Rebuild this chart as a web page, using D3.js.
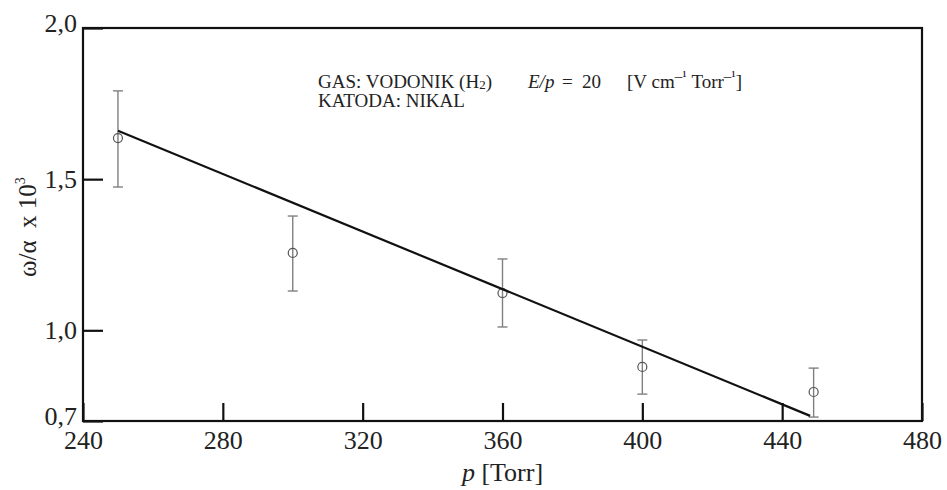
<!DOCTYPE html>
<html>
<head>
<meta charset="utf-8">
<script src="https://cdn.jsdelivr.net/npm/d3@7"></script>
<style>
  html, body { margin: 0; padding: 0; background: #fff; }
  svg { display: block; }
</style>
</head>
<body>
<svg id="chart" width="947" height="490"></svg>
<script>
// ---- data ----
const xTicks = [240, 280, 320, 360, 400, 440, 480];
const yTicks = [0.7, 1.0, 1.5, 2.0];
const pressure = [250, 300, 360, 400, 449];
const ratio    = [1.636, 1.256, 1.123, 0.879, 0.796];
const errLow   = [1.474, 1.130, 1.011, 0.789, 0.713];
const errHigh  = [1.792, 1.378, 1.236, 0.968, 0.875];
const fitP     = [250, 448];
const fitRatio = [1.66, 0.717];

// ---- layout ----
const FONT = "Times New Roman, Liberation Serif, DejaVu Serif, serif";
const W = 947, H = 490;
const margin = { top: 28, right: 25, bottom: 69, left: 83 };
const iw = W - margin.left - margin.right;
const ih = H - margin.top - margin.bottom;

const svg = d3.select("#chart").style("font-family", FONT);
const g = svg.append("g").attr("transform", `translate(${margin.left},${margin.top})`);

const x = d3.scaleLinear().domain([240, 480]).range([0, iw]);
const y = d3.scaleLinear().domain([0.7, 2.0]).range([ih, 0]);

const fmt = v => d3.format(".1f")(v).replace(".", ",");

// x axis (inward ticks)
const gx = g.append("g").attr("transform", `translate(0,${ih})`)
  .call(d3.axisBottom(x).tickValues(xTicks).tickSize(-18).tickPadding(10).tickFormat(d3.format("d")));
gx.attr("font-family", FONT).attr("font-size", 26);
gx.select(".domain").remove();
gx.selectAll(".tick line").attr("stroke", "#111").attr("stroke-width", 2.2);
gx.selectAll(".tick text").attr("fill", "#222").style("font-family", FONT);

// y axis (inward ticks)
const gy = g.append("g")
  .call(d3.axisLeft(y).tickValues(yTicks).tickSize(-20).tickPadding(6).tickFormat(fmt));
gy.attr("font-family", FONT).attr("font-size", 26);
gy.select(".domain").remove();
gy.selectAll(".tick line").attr("stroke", "#111").attr("stroke-width", 2.2);
gy.selectAll(".tick text").attr("fill", "#222").style("font-family", FONT)
  .attr("dy", d => (d === 0.7 || d === 2.0) ? "0.12em" : "0.32em");

// frame
g.append("rect").attr("x", 0).attr("y", 0).attr("width", iw).attr("height", ih)
  .attr("fill", "none").attr("stroke", "#111").attr("stroke-width", 2.2);

// error bars
const pts = pressure.map((p, i) => ({ p, v: ratio[i], lo: errLow[i], hi: errHigh[i] }));
const eb = g.append("g").attr("stroke", "#808080").attr("stroke-width", 1.4).attr("fill", "none");
pts.forEach(d => {
  eb.append("line").attr("x1", x(d.p)).attr("x2", x(d.p)).attr("y1", y(d.lo)).attr("y2", y(d.hi));
  eb.append("line").attr("x1", x(d.p) - 5).attr("x2", x(d.p) + 5).attr("y1", y(d.lo)).attr("y2", y(d.lo));
  eb.append("line").attr("x1", x(d.p) - 5).attr("x2", x(d.p) + 5).attr("y1", y(d.hi)).attr("y2", y(d.hi));
});
g.append("g").selectAll("circle").data(pts).join("circle")
  .attr("cx", d => x(d.p)).attr("cy", d => y(d.v)).attr("r", 4.5)
  .attr("fill", "none").attr("stroke", "#555").attr("stroke-width", 1.2);

// fit line
const fit = fitP.map((p, i) => [p, fitRatio[i]]);
g.append("path").datum(fit)
  .attr("d", d3.line().x(d => x(d[0])).y(d => y(d[1])))
  .attr("fill", "none").attr("stroke", "#111").attr("stroke-width", 2.2);

// annotation
const ann = svg.append("text").attr("x", 318).attr("y", 88).attr("font-size", 19)
  .attr("fill", "#222").style("font-family", FONT);
ann.append("tspan").text("GAS: VODONIK (H");
ann.append("tspan").attr("font-size", 13).attr("dy", 1).text("2");
ann.append("tspan").attr("dy", -1).text(")");
ann.append("tspan").attr("x", 528).attr("font-style", "italic").text("E/p");
ann.append("tspan").attr("x", 562).text("=");
ann.append("tspan").attr("x", 582).text("20");
ann.append("tspan").attr("x", 627).text("[V cm");
ann.append("tspan").attr("font-size", 15).attr("dy", -7).text("\u2013\u00B9");
ann.append("tspan").attr("dy", 7).text("\u00A0Torr");
ann.append("tspan").attr("font-size", 15).attr("dy", -7).text("\u2013\u00B9");
ann.append("tspan").attr("dy", 7).text("]");
svg.append("text").attr("x", 318).attr("y", 107).attr("font-size", 19)
  .attr("fill", "#222").style("font-family", FONT).text("KATODA: NIKAL");

// axis titles
const xt = svg.append("text").attr("x", margin.left + iw / 2).attr("y", 481)
  .attr("text-anchor", "middle").attr("font-size", 26).attr("fill", "#222").style("font-family", FONT);
xt.append("tspan").attr("font-style", "italic").text("p");
xt.append("tspan").text(" [Torr]");

const yt = svg.append("text").attr("transform", "translate(36,227) rotate(-90)")
  .attr("text-anchor", "middle").attr("font-size", 25).attr("fill", "#222").style("font-family", FONT);
yt.append("tspan").text("\u03C9/\u03B1\u00A0 x 10");
yt.append("tspan").attr("font-size", 14).attr("dy", -11).text("3");
</script>
</body>
</html>
